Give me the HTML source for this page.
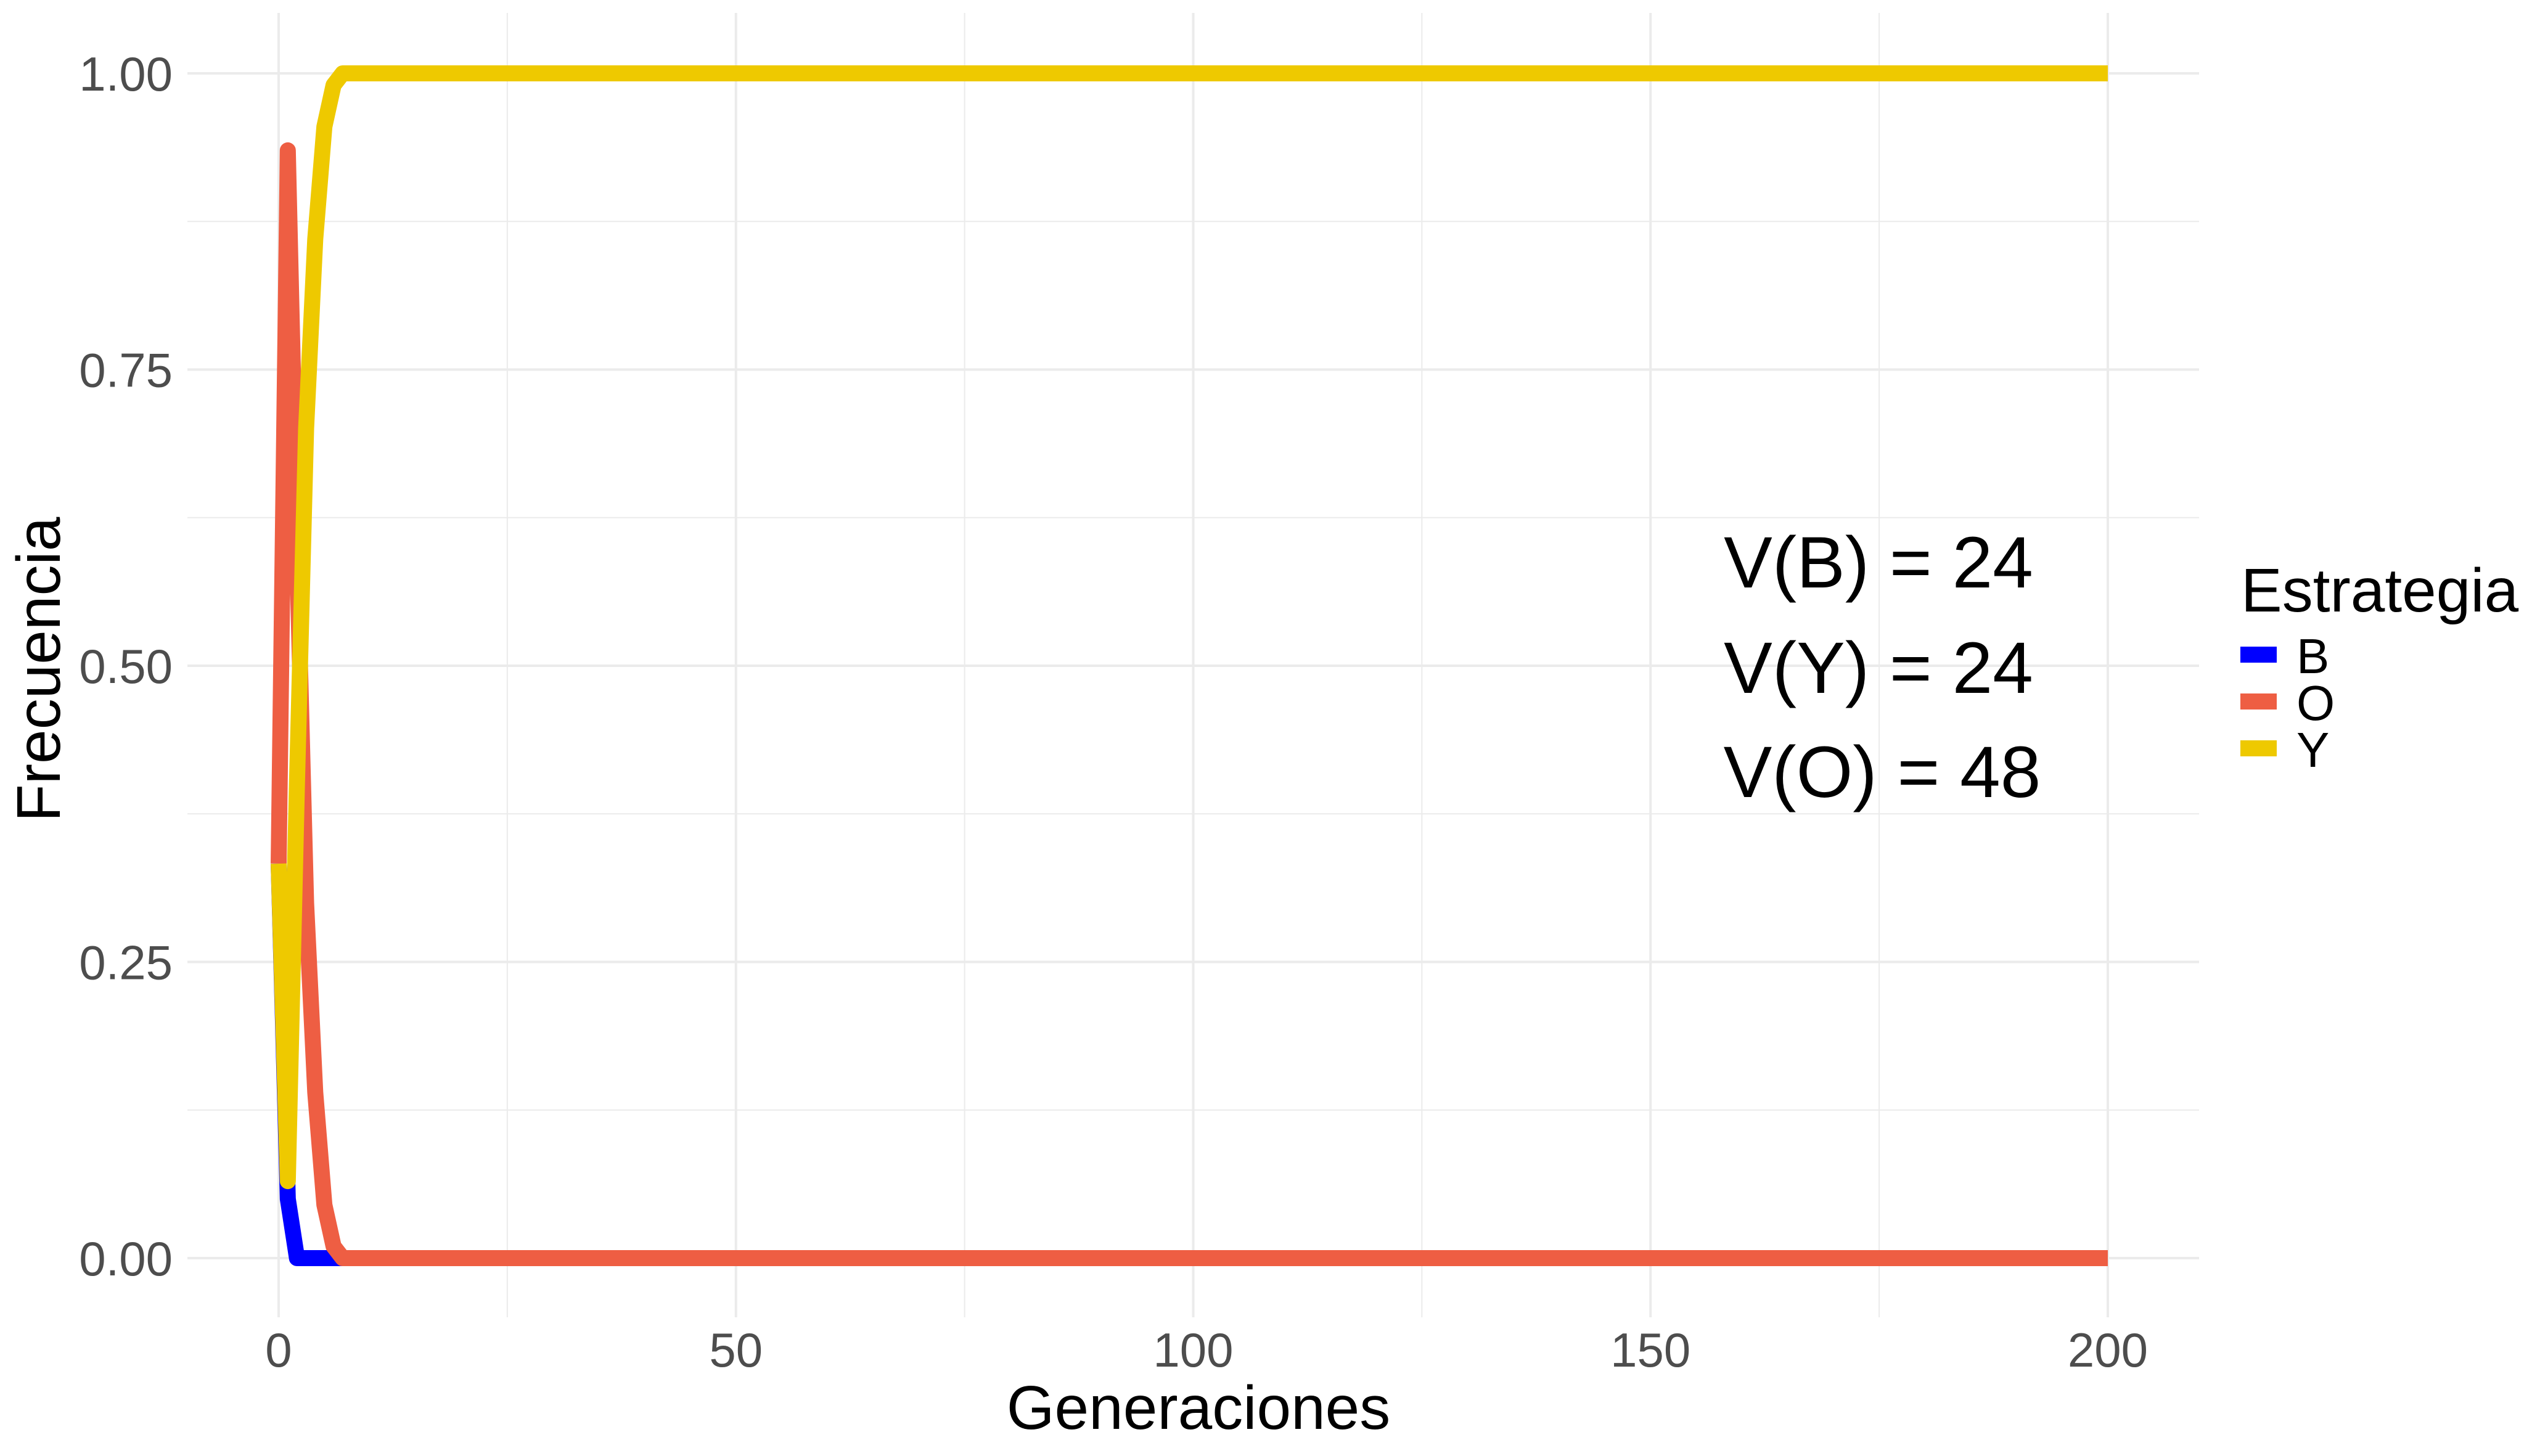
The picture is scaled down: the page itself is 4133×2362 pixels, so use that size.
<!DOCTYPE html>
<html><head><meta charset="utf-8">
<style>
html,body{margin:0;padding:0;background:#fff;}
svg{display:block;font-family:"Liberation Sans",Arial,sans-serif;}
</style></head>
<body>
<svg id="chart" width="4133" height="2362" viewBox="0 0 4133 2362" xmlns="http://www.w3.org/2000/svg">
<rect width="4133" height="2362" fill="#fff"/>
<g id="grid"></g>
<g id="series"></g>
<g id="axes"></g>
<text x="1944" y="2318" font-size="100" text-anchor="middle" fill="#000">Generaciones</text>
<text transform="translate(97,1086) rotate(-90)" font-size="100" text-anchor="middle" fill="#000">Frecuencia</text>
<g>
<text x="3047" y="953" font-size="118" text-anchor="middle" fill="#000">V(B) = 24</text>
<text x="3047" y="1124" font-size="118" text-anchor="middle" fill="#000">V(Y) = 24</text>
<text x="3053" y="1293" font-size="118" text-anchor="middle" fill="#000">V(O) = 48</text>
</g>
<g transform="translate(-13,0)">
<text x="3648" y="992" font-size="100" fill="#000">Estrategia</text>
<rect x="3647" y="1049" width="59" height="26" fill="#0000ff"/>
<text x="3738" y="1092" font-size="80" fill="#000">B</text>
<rect x="3647" y="1125" width="59" height="26" fill="#ee5e43"/>
<text x="3738" y="1168" font-size="80" fill="#000">O</text>
<rect x="3647" y="1201" width="59" height="26" fill="#eec900"/>
<text x="3738" y="1244" font-size="80" fill="#000">Y</text>
</g>
</svg>
<script>
const xTicks = [0, 50, 100, 150, 200];
const xMinor = [25, 75, 125, 175];
const yTicks = [0, 0.25, 0.5, 0.75, 1.0];
const yTickLabels = ["0.00", "0.25", "0.50", "0.75", "1.00"];
const yMinor = [0.125, 0.375, 0.625, 0.875];
const seriesNames = ["B", "O", "Y"];
const seriesColors = ["#0000ff", "#ee5e43", "#eec900"];
const valuesB = [0.333, 0.05, 0.0, 0.0, 0.0, 0.0, 0.0, 0.0];
const valuesO = [0.333, 0.935, 0.6, 0.3, 0.14, 0.045, 0.01, 0.0];
const valuesY = [0.333, 0.065, 0.4, 0.7, 0.86, 0.955, 0.99, 1.0];
const lastGen = 200;

const NS = "http://www.w3.org/2000/svg";
const X = v => 452 + (v / 200) * (3419 - 452);
const Y = v => 2041 - v * (2041 - 119);
const PX0 = 304, PX1 = 3567, PY0 = 21, PY1 = 2137;

function mk(tag, attrs, parent) {
  const e = document.createElementNS(NS, tag);
  for (const k in attrs) e.setAttribute(k, attrs[k]);
  parent.appendChild(e);
  return e;
}
const grid = document.getElementById('grid');
const axes = document.getElementById('axes');
const series = document.getElementById('series');

yMinor.forEach(v => {
  const l = mk('line', {x1: PX0, x2: PX1, y1: Y(v), y2: Y(v), stroke: '#ebebeb', 'stroke-width': 2}, grid);
  
  
});
xMinor.forEach(v => {
  const l = mk('line', {x1: X(v), x2: X(v), y1: PY0, y2: PY1, stroke: '#ebebeb', 'stroke-width': 2}, grid);
  
  
});
yTicks.forEach((v, i) => {
  const l = mk('line', {x1: PX0, x2: PX1, y1: Y(v), y2: Y(v), stroke: '#ebebeb', 'stroke-width': 4}, grid);
  
  
  const t = mk('text', {x: 280, y: Y(v) + 28, 'font-size': 78, 'text-anchor': 'end', fill: '#4d4d4d'}, axes);
  t.textContent = yTickLabels[i];
  
  
});
xTicks.forEach(v => {
  const l = mk('line', {x1: X(v), x2: X(v), y1: PY0, y2: PY1, stroke: '#ebebeb', 'stroke-width': 4}, grid);
  
  
  const t = mk('text', {x: X(v), y: 2217, 'font-size': 78, 'text-anchor': 'middle', fill: '#4d4d4d'}, axes);
  t.textContent = String(v);
  
  
});

[valuesB, valuesO, valuesY].forEach((vals, si) => {
  let d = '';
  vals.forEach((v, i) => { d += (i ? 'L' : 'M') + X(i) + ' ' + Y(v) + ' '; });
  d += 'L' + X(lastGen) + ' ' + Y(vals[vals.length - 1]);
  const p = mk('path', {d: d, fill: 'none', stroke: seriesColors[si], 'stroke-width': 26, 'stroke-linejoin': 'round', 'stroke-linecap': 'butt'}, series);
  
  
});
</script>
</body></html>
